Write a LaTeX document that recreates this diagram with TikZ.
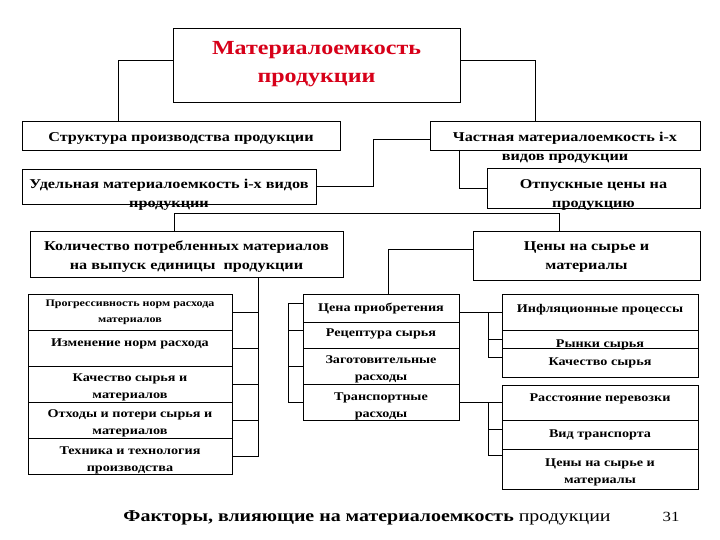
\documentclass[tikz,border=0pt]{standalone}
\usepackage{fontspec}
\setmainfont[FakeStretch=1.2]{Liberation Serif}
\usetikzlibrary{positioning}
\definecolor{titlered}{RGB}{215,0,25}
\tikzset{%
  cell/.style={draw,anchor=north west,inner sep=0pt,outer sep=0pt},
  bigtxt/.style={font=\fontsize{13.5}{19}\selectfont\bfseries,align=center,inner sep=0pt},
  celltxt/.style={font=\fontsize{11.8}{17}\selectfont\bfseries,align=center,inner sep=0pt},
  smalltxt/.style={font=\fontsize{10}{16}\selectfont\bfseries,align=center,inner sep=0pt}
}
\begin{document}
\begin{tikzpicture}[x=1pt,y=-1pt,line width=0.9pt]
    \useasboundingbox[fill=white] (0,0) rectangle (720,540);
    % upper part
    \node[cell,minimum width=287pt,minimum height=74pt] at (173,28) (mat) {};
    \node[below=12.5pt of mat.north,text=titlered,align=center,inner sep=0pt,
      font=\fontsize{20}{28}\selectfont\bfseries] (mat-t) {Материалоемкость\\продукции};
    \node[cell,minimum width=318pt,minimum height=29pt] at (22,121) (str) {};
    \node[bigtxt,below=10.8pt of str.north] (str-t) {Структура производства продукции};
    \node[cell,minimum width=270pt,minimum height=29pt] at (430,121) (chm) {};
    \node[bigtxt,below=10.8pt of chm.north] (chm-t) {Частная материалоемкость i-x\\видов продукции};
    \node[cell,minimum width=294pt,minimum height=35pt] at (22,169) (udm) {};
    \node[bigtxt,below=9.8pt of udm.north] (udm-t) {Удельная материалоемкость i-x видов\\продукции};
    \node[cell,minimum width=213pt,minimum height=40pt] at (487,168) (otp) {};
    \node[bigtxt,below=10.8pt of otp.north] (otp-t) {Отпускные цены на\\продукцию};
    \node[cell,minimum width=313pt,minimum height=46pt] at (30,231) (kol) {};
    \node[bigtxt,below=9.8pt of kol.north] (kol-t) {Количество потребленных материалов\\на выпуск единицы\ \ продукции};
    \node[cell,minimum width=227pt,minimum height=49pt] at (473,231) (cen) {};
    \node[bigtxt,below=9.8pt of cen.north] (cen-t) {Цены на сырье и\\материалы};
    % left column
    \node[cell,minimum width=204pt,minimum height=36pt] at (28,294) (l1) {};
    \node[cell,minimum width=204pt,minimum height=36pt,below=0pt of l1] (l2) {};
    \node[cell,minimum width=204pt,minimum height=36pt,below=0pt of l2] (l3) {};
    \node[cell,minimum width=204pt,minimum height=36pt,below=0pt of l3] (l4) {};
    \node[cell,minimum width=204pt,minimum height=36pt,below=0pt of l4] (l5) {};
    \node[smalltxt,below=6pt of l1.north] (l1-t) {Прогрессивность норм расхода\\материалов};
    \node[celltxt,below=8.4pt of l2.north] (l2-t) {Изменение норм расхода};
    \node[celltxt,below=7.4pt of l3.north] (l3-t) {Качество сырья и\\материалов};
    \node[celltxt,below=7.4pt of l4.north] (l4-t) {Отходы и потери сырья и\\материалов};
    \node[celltxt,below=8.4pt of l5.north] (l5-t) {Техника и технология\\производства};
    % middle column
    \node[cell,minimum width=156pt,minimum height=28pt] at (303,294) (m1) {};
    \node[cell,minimum width=156pt,minimum height=26pt,below=0pt of m1] (m2) {};
    \node[cell,minimum width=156pt,minimum height=36pt,below=0pt of m2] (m3) {};
    \node[cell,minimum width=156pt,minimum height=36pt,below=0pt of m3] (m4) {};
    \node[celltxt,below=8.4pt of m1.north] (m1-t) {Цена приобретения};
    \node[celltxt,below=6.4pt of m2.north] (m2-t) {Рецептура сырья};
    \node[celltxt,below=7.4pt of m3.north] (m3-t) {Заготовительные\\расходы};
    \node[celltxt,below=8.4pt of m4.north] (m4-t) {Транспортные\\расходы};
    % right columns
    \node[cell,minimum width=196pt,minimum height=36pt] at (502,294) (r1) {};
    \node[cell,minimum width=196pt,minimum height=18pt,below=0pt of r1] (r2) {};
    \node[cell,minimum width=196pt,minimum height=29pt,below=0pt of r2] (r3) {};
    \node[celltxt,below=9.4pt of r1.north] (r1-t) {Инфляционные процессы};
    \node[celltxt,below=9.4pt of r2.north] (r2-t) {Рынки сырья};
    \node[celltxt,below=9.4pt of r3.north] (r3-t) {Качество сырья};
    \node[cell,minimum width=196pt,minimum height=35pt] at (502,385) (s1) {};
    \node[cell,minimum width=196pt,minimum height=29pt,below=0pt of s1] (s2) {};
    \node[cell,minimum width=196pt,minimum height=40pt,below=0pt of s2] (s3) {};
    \node[celltxt,below=8.4pt of s1.north] (s1-t) {Расстояние перевозки};
    \node[celltxt,below=9.4pt of s2.north] (s2-t) {Вид транспорта};
    \node[celltxt,below=9.4pt of s3.north] (s3-t) {Цены на сырье и\\материалы};
    % connectors
    \draw ([yshift=5pt]mat.west) -| ([xshift=-63pt]str.north);
    \draw ([yshift=5pt]mat.east) -| ([xshift=-30pt]chm.north);
    \draw (udm.east) -- ++(57,0) |- ([yshift=-4pt]chm.west);
    \draw ([xshift=-106pt]chm.south) |- (otp.west);
    \draw ([xshift=-12pt]kol.north) -- ++(0,-18) -| ([xshift=-27pt]cen.north);
    \draw ([yshift=6pt]cen.west) -| ([xshift=7pt]m1.north);
    \draw ([xshift=72pt]kol.south) |- (l5.east);
    \foreach \c in {l1,l2,l3,l4} \draw (\c.east) -- ++(27,0);
    \draw ([yshift=5pt]m1.west) -- ++(-15,0) |- (m4.west);
    \draw ([yshift=5pt]m2.west) -- ++(-15,0);
    \draw (m3.west) -- ++(-15,0);
    \draw (r1.west) -- (r1.west -| m1.east);
    \draw (r1.west) ++(-14,0) |- ([yshift=5pt]r3.west);
    \draw (r2.west) -- ++(-14,0);
    \draw (s1.west) -- (s1.west -| m4.east);
    \draw (s1.west) ++(-14,0) |- ([yshift=14pt]s3.west);
    \draw ([yshift=5pt]s2.west) -- ++(-14,0);
    % caption
    \node[anchor=base,inner sep=0pt,font=\fontsize{16.6}{20}\selectfont] at (367,521) (cap)
      {\textbf{Факторы, влияющие на материалоемкость} продукции};
    \node[inner sep=0pt,font=\fontsize{14}{16}\selectfont] at (671,517) (pg) {31};
\end{tikzpicture}
\end{document}
